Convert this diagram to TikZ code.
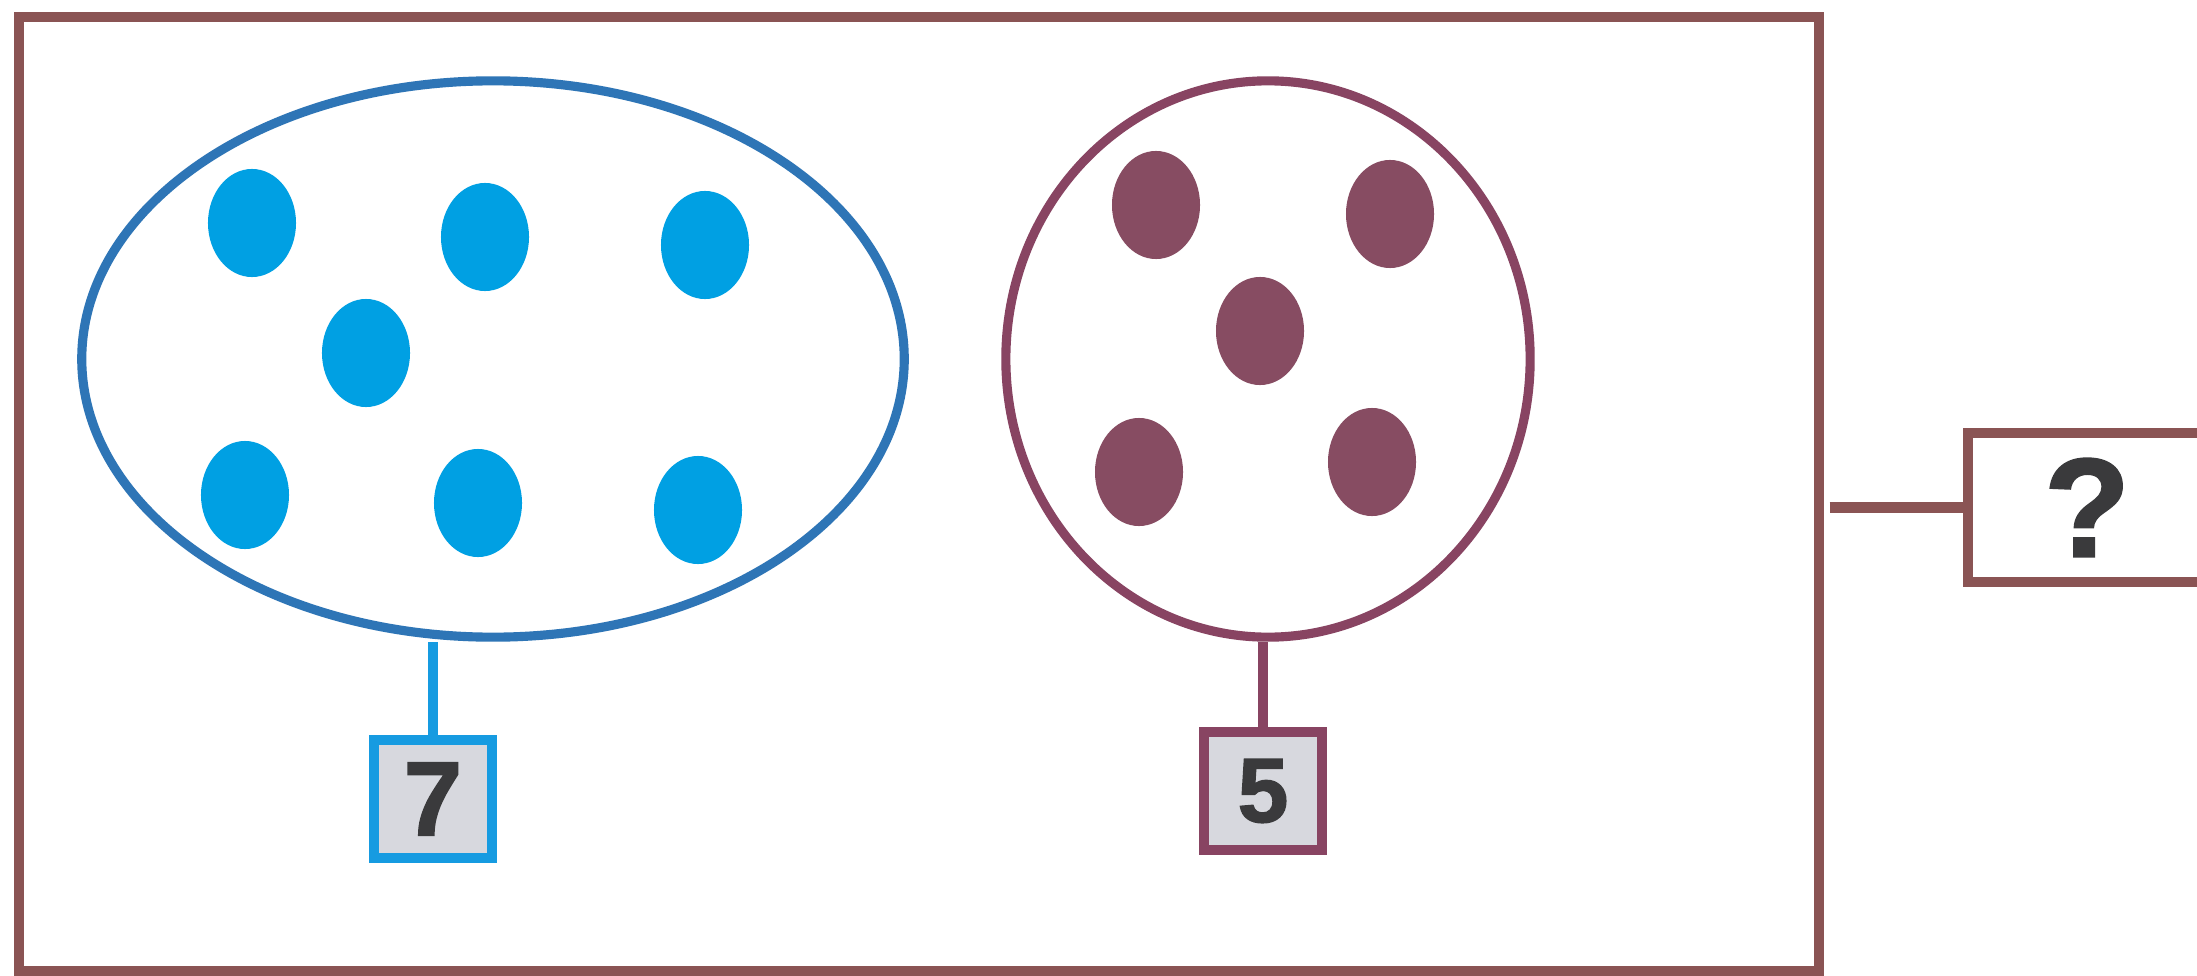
\documentclass[tikz,border=0pt]{standalone}
\usepackage{fontspec}
\setmainfont{Liberation Sans}
\usetikzlibrary{shapes.geometric}
\definecolor{framec}{RGB}{138,84,84}
\definecolor{ellblue}{RGB}{46,117,182}
\definecolor{dotblue}{RGB}{0,160,227}
\definecolor{boxblue}{RGB}{22,155,225}
\definecolor{maroon}{RGB}{136,68,98}
\definecolor{dotmaroon}{RGB}{135,76,98}
\definecolor{boxfill}{RGB}{215,216,222}
\definecolor{digit}{RGB}{58,58,60}
\tikzset{
  bdot/.style={ellipse, fill=dotblue, minimum width=0.88cm, minimum height=1.08cm, inner sep=0pt},
  mdot/.style={ellipse, fill=dotmaroon, minimum width=0.88cm, minimum height=1.08cm, inner sep=0pt},
  numbox/.style={draw, line width=2.85pt, fill=boxfill, minimum width=1.18cm, minimum height=1.18cm, inner sep=0pt, text=digit},
  setline/.style={line width=2.6pt},
}
\begin{document}
\begin{tikzpicture}[x=0.01cm, y=-0.01cm]
\useasboundingbox (0,0) rectangle (2197,976);
\fill[white] (0,0) rectangle (2197,976);
% outer frame
\node[draw=framec, line width=2.85pt, minimum width=17.98cm, minimum height=9.54cm, inner sep=0pt] (frame) at (919,494) {};
% question box
\node[draw=framec, line width=2.85pt, minimum width=2.38cm, minimum height=1.49cm, inner sep=0pt, text=digit, font=\fontsize{40}{42}\selectfont\bfseries\addfontfeature{FakeBold=1.5}] (qbox) at (2087,507.5) {?};
\draw[framec, line width=2.85pt] ([xshift=0.06cm]frame.east |- qbox.west) -- (qbox.west);
% blue set
\node[ellipse, draw=ellblue, setline, minimum width=8.22cm, minimum height=5.56cm, inner sep=0pt] (E) at (493,359) {};
\node[bdot] (b1) at (252,223) {};
\node[bdot] (b2) at (485,237) {};
\node[bdot] (b3) at (705,245) {};
\node[bdot] (b4) at (366,353) {};
\node[bdot] (b5) at (245,495) {};
\node[bdot] (b6) at (478,503) {};
\node[bdot] (b7) at (698,510) {};
\node[numbox, draw=boxblue, font=\fontsize{30}{32}\selectfont\bfseries\addfontfeature{FakeBold=1.5}] (n7) at (433,799) {7};
\draw[boxblue, line width=2.85pt] (n7.north) -- (n7.north |- E.south);
% maroon set
\node[ellipse, draw=maroon, setline, minimum width=5.24cm, minimum height=5.56cm, inner sep=0pt] (C) at (1268,359) {};
\node[mdot] (m1) at (1156,205) {};
\node[mdot] (m2) at (1390,214) {};
\node[mdot] (m3) at (1260,331) {};
\node[mdot] (m4) at (1139,472) {};
\node[mdot] (m5) at (1372,462) {};
\node[numbox, draw=maroon, font=\fontsize{26}{28}\selectfont\bfseries\addfontfeature{FakeBold=1.5}] (n5) at (1263,791) {5};
\draw[maroon, line width=2.85pt] (n5.north) -- (n5.north |- C.south);
\end{tikzpicture}
\end{document}
